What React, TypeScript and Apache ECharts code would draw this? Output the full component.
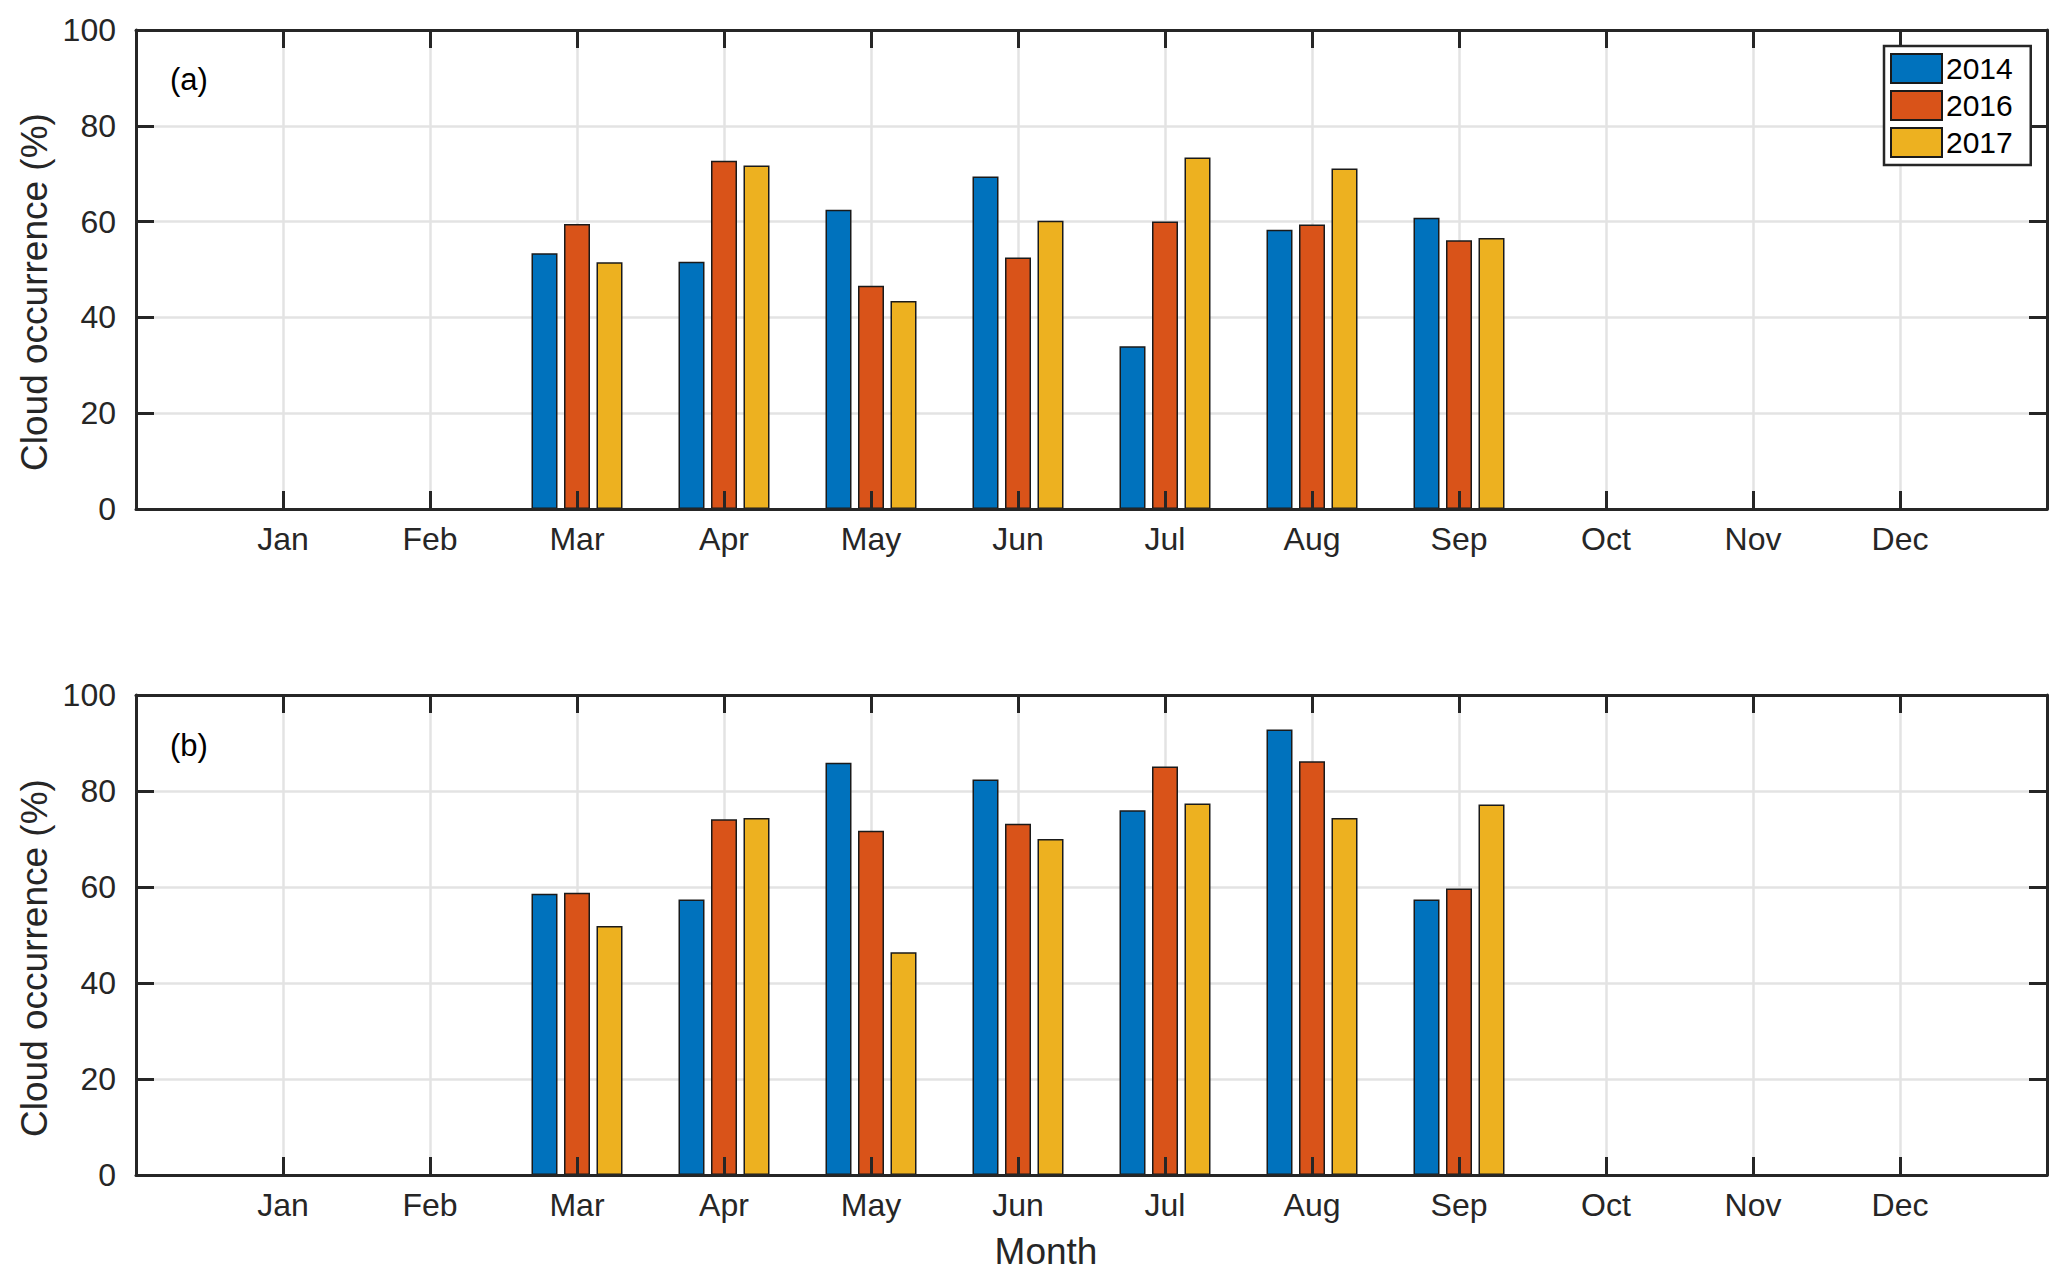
import React, { useEffect, useRef } from "react";
import * as echarts from "echarts";

const months = ["Jan", "Feb", "Mar", "Apr", "May", "Jun", "Jul", "Aug", "Sep", "Oct", "Nov", "Dec"];
const years = ["2014", "2016", "2017"];
const yTicks = { min: 0, max: 100, interval: 20 };

// Panel (a)
const a2014 = [null, null, 53.4, 51.6, 62.5, 69.4, 34.0, 58.3, 60.8, null, null, null];
const a2016 = [null, null, 59.5, 72.7, 46.6, 52.5, 60.0, 59.4, 56.1, null, null, null];
const a2017 = [null, null, 51.5, 71.7, 43.4, 60.2, 73.4, 71.1, 56.6, null, null, null];
// Panel (b)
const b2014 = [null, null, 58.6, 57.4, 85.9, 82.4, 76.0, 92.8, 57.4, null, null, null];
const b2016 = [null, null, 58.8, 74.1, 71.7, 73.2, 85.1, 86.2, 59.7, null, null, null];
const b2017 = [null, null, 51.9, 74.4, 46.4, 70.0, 77.4, 74.4, 77.2, null, null, null];

const colors = ["#0072BD", "#D95319", "#EDB120"];
const FONT = "'Liberation Sans', Arial, Helvetica, sans-serif";
const AX = "#262626";

const cats = ["", ...months, ""];
const pad = (arr: (number | null)[]) => [null, ...arr, null];

export default function App() {
  const ref = useRef<HTMLDivElement>(null);
  useEffect(() => {
    if (!ref.current) return;
    const chart = echarts.init(ref.current, null, { renderer: "svg" });
    const grids = [
      { left: 136, top: 30, width: 1911, height: 479 },
      { left: 136, top: 695, width: 1911, height: 480 },
    ];
    const xAxis: any[] = [];
    const yAxis: any[] = [];
    grids.forEach((_, g) => {
      const base = {
        type: "category",
        data: cats,
        gridIndex: g,
        boundaryGap: false,
      };
      xAxis.push({
        ...base,
        position: "bottom",
        z: 0,
        axisLine: { show: false, onZero: false },
        axisTick: { show: false },
        axisLabel: { interval: 0, margin: 14, fontSize: 32, fontFamily: FONT, color: AX },
        splitLine: { show: true, interval: 0, lineStyle: { color: "#e3e3e3", width: 2.5 } },
      });
      ["bottom", "top"].forEach((pos) => {
        xAxis.push({
          ...base,
          position: pos,
          z: 10,
          axisLine: { show: true, onZero: false, lineStyle: { color: AX, width: 3 } },
          axisTick: { show: true, inside: true, interval: 0, length: 18, lineStyle: { color: AX, width: 3 } },
          axisLabel: { show: false },
          splitLine: { show: false },
        });
      });
      const ybase = { type: "value", gridIndex: g, ...yTicks };
      yAxis.push({
        ...ybase,
        position: "left",
        z: 0,
        axisLine: { show: false, onZero: false },
        axisTick: { show: false },
        axisLabel: { margin: 20, fontSize: 32, fontFamily: FONT, color: AX },
        splitLine: { show: true, lineStyle: { color: "#e3e3e3", width: 2.5 } },
      });
      ["left", "right"].forEach((pos) => {
        yAxis.push({
          ...ybase,
          position: pos,
          z: 10,
          axisLine: { show: true, onZero: false, lineStyle: { color: AX, width: 3 } },
          axisTick: { show: true, inside: true, length: 18, lineStyle: { color: AX, width: 3 } },
          axisLabel: { show: false },
          splitLine: { show: false },
        });
      });
    });
    const panels = [
      [a2014, a2016, a2017],
      [b2014, b2016, b2017],
    ];
    const series: any[] = [];
    panels.forEach((vals, g) => {
      vals.forEach((v, i) => {
        series.push({
          type: "bar",
          name: years[i],
          xAxisIndex: 3 * g,
          yAxisIndex: 3 * g,
          data: pad(v),
          barWidth: 26,
          barGap: "25%",
          z: 2,
          itemStyle: { color: colors[i], borderColor: "#1a1a1a", borderWidth: 1.5 },
        });
      });
    });
    const ytitle = (y: number) => ({
      type: "text",
      x: 34,
      y,
      rotation: Math.PI / 2,
      style: {
        text: "Cloud occurrence (%)",
        fontSize: 37,
        fontFamily: FONT,
        fill: AX,
        align: "center",
        verticalAlign: "middle",
      },
    });
    const panelLabel = (text: string, y: number) => ({
      type: "text",
      x: 170,
      y,
      z: 20,
      style: { text, fontSize: 31, fontFamily: FONT, fill: "#000", align: "left", verticalAlign: "middle" },
    });
    chart.setOption({
      animation: false,
      backgroundColor: "#fff",
      grid: grids,
      xAxis,
      yAxis,
      series,
      legend: {
        show: true,
        orient: "vertical",
        left: 1884,
        top: 46,
        itemWidth: 51,
        itemHeight: 29,
        itemGap: 6,
        padding: [7, 18, 7, 6],
        borderColor: AX,
        borderWidth: 2.5,
        borderRadius: 0,
        backgroundColor: "#fff",
        selectedMode: false,
        icon: "rect",
        data: years,
        z: 20,
        textStyle: { fontSize: 30, fontFamily: FONT, color: "#000", padding: [0, 0, 0, -1] },
      },
      graphic: [
        ytitle(292),
        ytitle(958),
        panelLabel("(a)", 79),
        panelLabel("(b)", 745),
        {
          type: "text",
          x: 1046,
          y: 1251,
          style: {
            text: "Month",
            fontSize: 37,
            fontFamily: FONT,
            fill: AX,
            align: "center",
            verticalAlign: "middle",
          },
        },
      ],
    });
    return () => chart.dispose();
  }, []);
  return (
    <div
      ref={ref}
      style={{ position: "absolute", left: 0, top: 0, width: 2067, height: 1283 }}
    />
  );
}
